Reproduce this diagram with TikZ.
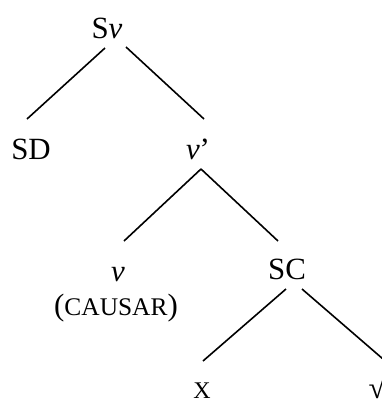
\documentclass[tikz,border=0pt]{standalone}
\usepackage{fontspec}
\setmainfont{Liberation Serif}
\usetikzlibrary{positioning}
\tikzset{
  cat/.style={anchor=base, inner sep=0pt, font=\fontsize{31}{35}\selectfont},
  catsc/.style={cat, font=\fontsize{24}{28}\selectfont},
  branch/.style={line width=1.6bp, black},
}
\newcommand{\smallcap}[1]{{\fontsize{25.5}{29}\selectfont #1}}
\begin{document}
\begin{tikzpicture}[x=1bp, y=-1bp]
  \useasboundingbox (0,0) rectangle (382,399);
  % categories
  \node[cat] (sv) at (107,38) {S\textit{v}};
  \node[cat] (sd) at (31,159) {SD};
  \node[cat] (vbar) at (198,159) {\textit{v}’};
  \node[cat] (v) at (118,281) {\textit{v}};
  \node[cat] (causar) at (116,315) {(\smallcap{CAUSAR})};
  \node[cat] (sc) at (287,279) {SC};
  \node[catsc] (x) at (202,398) {X};
  \node[cat] (root) at (377,398) {√};
  % branch ends
  \coordinate (sv-l) at (105,48);   \coordinate (sd-t) at (27,119);
  \coordinate (sv-r) at (126,47);   \coordinate (vbar-t) at (204,119);
  \coordinate (vbar-b) at (201,169);
  \coordinate (v-t) at (124,241);   \coordinate (sc-t) at (278,241);
  \coordinate (sc-l) at (286,289);  \coordinate (x-t) at (203,361);
  \coordinate (sc-r) at (302,289);  \coordinate (root-t) at (383,359);
  \foreach \a/\b in {sv-l/sd-t,sv-r/vbar-t,vbar-b/v-t,vbar-b/sc-t,sc-l/x-t,sc-r/root-t}
    \draw[branch] (\a) -- (\b);
\end{tikzpicture}
\end{document}
